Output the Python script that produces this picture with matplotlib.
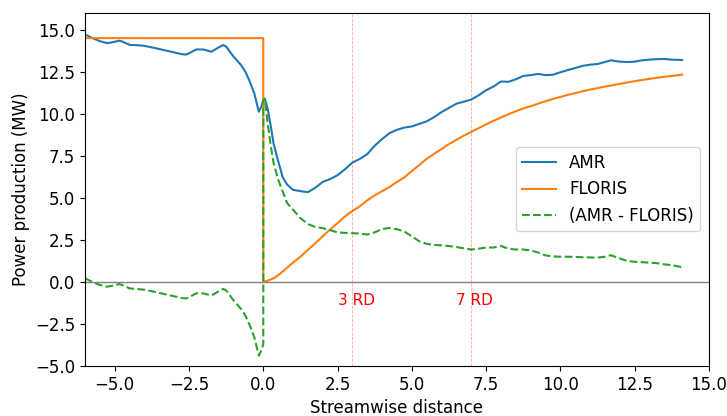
import numpy as np
import matplotlib
matplotlib.use("Agg")
import matplotlib.pyplot as plt

# Streamwise positions (rotor diameters); 0.0 appears twice to capture the FLORIS step at the turbine
x = [-6.0, -5.75, -5.5, -5.25, -5.0, -4.85, -4.75, -4.5, -4.25, -4.0, -3.75, -3.5,
     -3.25, -3.0, -2.75, -2.6, -2.5, -2.25, -2.0, -1.75, -1.5, -1.35, -1.25, -1.0,
     -0.75, -0.6, -0.45, -0.3, -0.15, -0.05, 0.0,
     0.0, 0.05, 0.15, 0.25, 0.35, 0.5, 0.65, 0.8, 1.0, 1.25, 1.5, 1.75, 2.0, 2.25,
     2.5, 2.75, 3.0, 3.25, 3.5, 3.75, 4.0, 4.25, 4.5, 4.75, 5.0, 5.25, 5.5, 5.75,
     6.0, 6.25, 6.5, 6.75, 7.0, 7.25, 7.5, 7.75, 8.0, 8.25, 8.5, 8.75, 9.0, 9.25,
     9.5, 9.75, 10.0, 10.25, 10.5, 10.75, 11.0, 11.25, 11.5, 11.7, 12.0, 12.25,
     12.5, 12.75, 13.0, 13.25, 13.5, 13.75, 14.1]

# AMR-simulated power (MW)
amr = [14.72, 14.5, 14.32, 14.2, 14.28, 14.35, 14.3, 14.1, 14.08, 14.04, 13.95, 13.85,
       13.75, 13.65, 13.55, 13.52, 13.6, 13.83, 13.82, 13.69, 13.95, 14.09, 14.0, 13.4,
       12.9, 12.5, 11.9, 11.2, 10.12, 10.5, 10.8,
       10.8, 10.9, 10.3, 9.3, 8.2, 7.2, 6.25, 5.8, 5.48, 5.4, 5.34, 5.6, 5.95, 6.12,
       6.35, 6.7, 7.1, 7.32, 7.6, 8.1, 8.5, 8.85, 9.05, 9.18, 9.25, 9.4, 9.55, 9.8,
       10.1, 10.35, 10.6, 10.72, 10.85, 11.1, 11.4, 11.62, 11.92, 11.9, 12.05, 12.25,
       12.3, 12.37, 12.3, 12.32, 12.47, 12.6, 12.72, 12.85, 12.92, 12.96, 13.08, 13.18,
       13.1, 13.08, 13.1, 13.18, 13.22, 13.25, 13.26, 13.22, 13.2]

# FLORIS-predicted power (MW)
floris = [14.5] * 31 + [
    0.0, 0.03, 0.08, 0.15, 0.22, 0.4, 0.62, 0.85, 1.15, 1.5, 1.9, 2.3, 2.72, 3.12,
    3.5, 3.9, 4.22, 4.5, 4.85, 5.15, 5.4, 5.65, 5.95, 6.22, 6.6, 6.95, 7.32, 7.62,
    7.9, 8.2, 8.45, 8.7, 8.92, 9.15, 9.37, 9.58, 9.78, 9.97, 10.15, 10.32, 10.45,
    10.6, 10.75, 10.88, 11.0, 11.12, 11.23, 11.34, 11.44, 11.53, 11.62, 11.68,
    11.78, 11.86, 11.94, 12.01, 12.08, 12.14, 12.2, 12.25, 12.33]

# AMR minus FLORIS (MW)
diff = [0.22, 0.0, -0.18, -0.28, -0.2, -0.12, -0.18, -0.38, -0.42, -0.46, -0.55, -0.65,
        -0.75, -0.85, -0.95, -0.98, -0.9, -0.67, -0.68, -0.81, -0.55, -0.41, -0.5, -1.1,
        -1.6, -2.0, -2.6, -3.3, -4.38, -4.0, -3.7,
        10.8, 10.9, 9.4, 8.1, 7.05, 6.1, 5.4, 4.7, 4.3, 3.8, 3.45, 3.27, 3.2, 3.08,
        2.95, 2.92, 2.9, 2.88, 2.82, 2.95, 3.15, 3.21, 3.14, 3.0, 2.72, 2.42, 2.27, 2.2,
        2.18, 2.14, 2.08, 2.0, 1.93, 1.98, 2.05, 2.05, 2.14, 1.98, 1.93, 1.93,
        1.88, 1.75, 1.58, 1.52, 1.5, 1.5, 1.49, 1.47, 1.46, 1.45, 1.5, 1.59,
        1.4, 1.25, 1.2, 1.18, 1.15, 1.12, 1.05, 1.0, 0.88]

rd_marks = [3, 7]
rd_labels = ["3 RD", "7 RD"]

xticks = [-5.0, -2.5, 0.0, 2.5, 5.0, 7.5, 10.0, 12.5, 15.0]
yticks = [-5.0, -2.5, 0.0, 2.5, 5.0, 7.5, 10.0, 12.5, 15.0]

fig = plt.figure(figsize=(7.27, 4.16), dpi=100)
ax = fig.add_axes([0.117, 0.12, 0.858, 0.849])

ax.plot(x, amr, color="#1f77b4", lw=1.5, label="AMR")
ax.plot(x, floris, color="#ff7f0e", lw=1.5, label="FLORIS")
ax.plot(x, diff, color="#2ca02c", lw=1.5, ls="--", label="(AMR - FLORIS)")

ax.axhline(0, color="gray", lw=1)
for xr, lab in zip(rd_marks, rd_labels):
    ax.axvline(xr, color="red", lw=0.6, ls="--", alpha=0.35)
    ax.text(xr - 0.5, -1.1, lab, color="red", fontsize=11, ha="left", va="center")

ax.set_xlim(-6, 15)
ax.set_ylim(-5, 16)
ax.set_xticks(xticks)
ax.set_yticks(yticks)
ax.tick_params(labelsize=12)
ax.set_xlabel("Streamwise distance", fontsize=12)
ax.set_ylabel("Power production (MW)", fontsize=12)
ax.legend(loc="center right", fontsize=12)

fig.savefig("out.png", dpi=100)
